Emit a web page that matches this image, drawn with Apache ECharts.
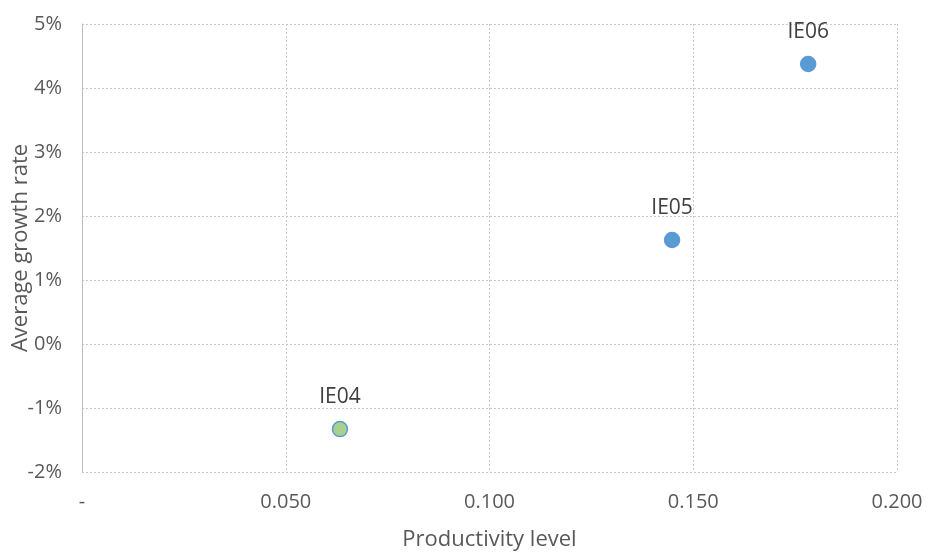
<!DOCTYPE html>
<html><head><meta charset="utf-8">
<script src="https://cdn.jsdelivr.net/npm/echarts@6/dist/echarts.min.js"></script>
<style>html,body{margin:0;padding:0;background:#fff}#c{width:927px;height:552px}</style>
</head><body><div id="c"></div>
<script>
const names = ['IE04', 'IE05', 'IE06'];
const productivity = [0.0633, 0.1448, 0.1782];
const growth = [-1.33, 1.625, 4.375];
const fills = ['#A9D18E', '#5B9BD5', '#5B9BD5'];
const xTicks = {0: '-', 0.05: '0.050', 0.1: '0.100', 0.15: '0.150', 0.2: '0.200'};

const chart = echarts.init(document.getElementById('c'));
const font = 'Open Sans, Noto Sans, sans-serif';
chart.setOption({
  animation: false,
  grid: {left: 82, right: 30, top: 24, bottom: 80, containLabel: false, outerBoundsMode: 'none'},
  xAxis: {
    type: 'value', min: 0, max: 0.2, interval: 0.05,
    name: 'Productivity level', nameLocation: 'middle', nameGap: 57, nameMoveOverlap: false,
    nameTextStyle: {color: '#595959', fontSize: 22, fontFamily: font},
    axisLine: {show: false}, axisTick: {show: false},
    axisLabel: {color: '#595959', fontSize: 20, fontFamily: font, margin: 20,
      formatter: v => xTicks[Math.round(v*1000)/1000] ?? v.toFixed(3)},
    splitLine: {show: true, lineStyle: {color: '#c8c8c8', type: [2, 2]}}
  },
  yAxis: {
    type: 'value', min: -2, max: 5, interval: 1,
    name: 'Average growth rate', nameLocation: 'middle', nameGap: 50, nameMoveOverlap: false,
    nameTextStyle: {color: '#595959', fontSize: 22, fontFamily: font},
    axisLine: {show: true, lineStyle: {color: '#bfbfbf', width: 1}}, axisTick: {show: false},
    axisLabel: {color: '#595959', fontSize: 20, fontFamily: font, margin: 20, formatter: v => v + '%'},
    splitLine: {show: true, lineStyle: {color: '#c8c8c8', type: [2, 2]}}
  },
  series: [{
    type: 'scatter', symbolSize: 15,
    data: names.map((n, i) => ({
      value: [productivity[i], growth[i]], name: n,
      itemStyle: {color: fills[i], borderColor: '#5B9BD5', borderWidth: 1.5, opacity: 1}
    })),
    label: {show: true, position: 'top', distance: 13, formatter: p => p.name,
      color: '#404040', fontSize: 21, fontFamily: font}
  }]
});
</script></body></html>
